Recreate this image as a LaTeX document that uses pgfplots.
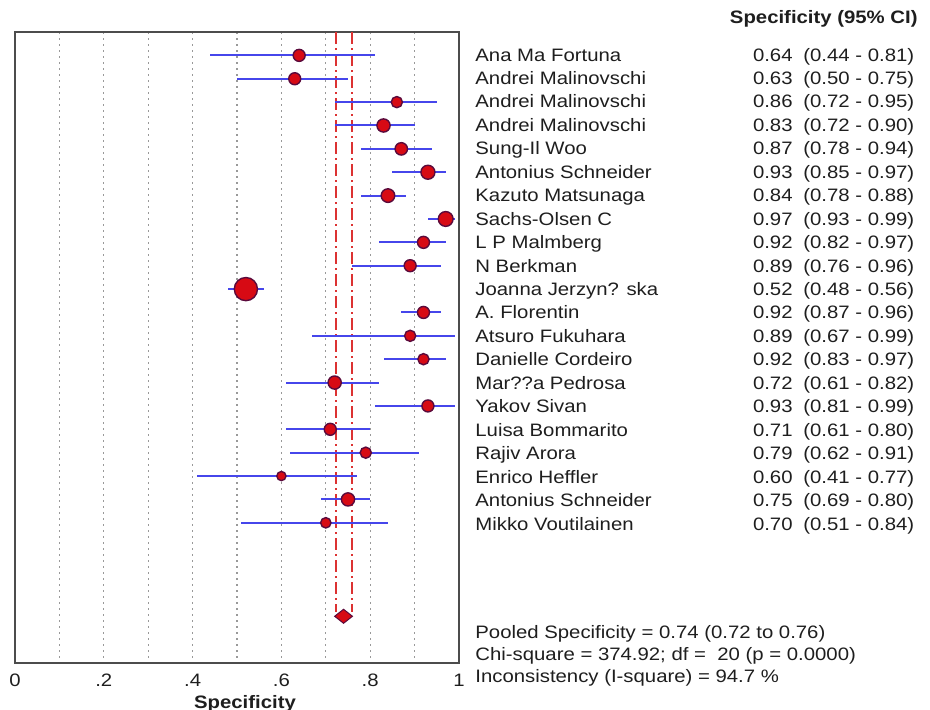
\documentclass[border=0pt]{standalone}
\usepackage{pgfplots}
\pgfplotsset{compat=1.18}
\usepackage{pgfplotstable}
\usepackage{fontspec}
\setmainfont{Liberation Sans}[FakeStretch=1.13]
\definecolor{ciblue}{RGB}{70,70,235}
\definecolor{mkred}{RGB}{215,10,20}
\definecolor{mkedge}{RGB}{90,10,60}
\definecolor{txt}{RGB}{30,30,30}
\definecolor{refred}{RGB}{220,50,50}

\pgfplotstableread{
row x lo hi r
0 0.64 0.44 0.81 3.0
1 0.63 0.50 0.75 3.0
2 0.86 0.72 0.95 2.8
3 0.83 0.72 0.90 3.3
4 0.87 0.78 0.94 3.1
5 0.93 0.85 0.97 3.5
6 0.84 0.78 0.88 3.4
7 0.97 0.93 0.99 3.7
8 0.92 0.82 0.97 3.0
9 0.89 0.76 0.96 3.0
10 0.52 0.48 0.56 5.8
11 0.92 0.87 0.96 3.0
12 0.89 0.67 0.99 2.8
13 0.92 0.83 0.97 2.8
14 0.72 0.61 0.82 3.3
15 0.93 0.81 0.99 3.0
16 0.71 0.61 0.80 3.0
17 0.79 0.62 0.91 2.8
18 0.60 0.41 0.77 2.3
19 0.75 0.69 0.80 3.3
20 0.70 0.51 0.84 2.6
}\studies

\begin{document}
\begin{tikzpicture}
\begin{axis}[
  name=ax,
  scale only axis, width=222pt, height=315.5pt,
  xmin=0, xmax=1, ymin=-1, ymax=26, y dir=reverse,
  axis line style={draw=black!70, line width=1pt},
  xtick={0,0.2,0.4,0.6,0.8,1},
  xticklabels={0,.2,.4,.6,.8,1},
  minor xtick={0.1,0.3,0.5,0.7,0.9},
  xmajorgrids, xminorgrids,
  major grid style={black!40, dash pattern=on 1pt off 2pt, line width=0.6pt},
  minor grid style={black!40, dash pattern=on 1pt off 2pt, line width=0.6pt},
  ytick=\empty,
  major tick length=0pt, minor tick length=0pt,
  xticklabel style={font=\fontsize{9}{10}\selectfont, text=txt, yshift=-2pt},
  /pgf/number format/assume math mode=true,
  clip=false,
]
% pooled CI reference lines
\addplot[draw=refred, line width=0.8pt, dash pattern=on 6pt off 2pt on 1pt off 2pt] coordinates {(0.723,-1) (0.723,23.8)};
\addplot[draw=refred, line width=0.8pt, dash pattern=on 6pt off 2pt on 1pt off 2pt] coordinates {(0.759,-1) (0.759,23.8)};
% CI lines
\addplot[draw=none, mark=none, forget plot,
  error bars/.cd, x dir=both, x explicit, error mark=none,
  error bar style={ciblue, line width=1pt}]
  table[x=x, y=row, x error minus expr=\thisrow{x}-\thisrow{lo}, x error plus expr=\thisrow{hi}-\thisrow{x}] {\studies};
% point estimates
\addplot[only marks, mark=*, scatter,
  scatter/use mapped color={draw=mkedge, fill=mkred},
  visualization depends on={\thisrow{r} \as \msize},
  scatter/@pre marker code/.append style={/tikz/mark size=\msize},
  mark options={line width=0.7pt}]
  table[x=x, y=row] {\studies};
% pooled diamond
\addplot[fill=mkred, draw=mkedge, line width=0.5pt] coordinates {(0.72,24) (0.74,23.7) (0.76,24) (0.74,24.3)} -- cycle;
\end{axis}
\begin{scope}[shift={(ax.north west)}, x=0.5pt, y=-0.5pt,
  every node/.style={font=\fontsize{9}{10}\selectfont, text=txt, inner sep=0pt}]
\path[use as bounding box] (-15,-32) rectangle (915,677);
\node[anchor=base] at (230,676) {\textbf{Specificity}};
\node[anchor=base east] at (903,-8) {\textbf{Specificity (95\% CI)}};
\foreach \n/\v/\c [count=\i from 0] in {
 Ana Ma Fortuna/0.64/(0.44 - 0.81),
 Andrei Malinovschi/0.63/(0.50 - 0.75),
 Andrei Malinovschi/0.86/(0.72 - 0.95),
 Andrei Malinovschi/0.83/(0.72 - 0.90),
 Sung-Il Woo/0.87/(0.78 - 0.94),
 Antonius Schneider/0.93/(0.85 - 0.97),
 Kazuto Matsunaga/0.84/(0.78 - 0.88),
 Sachs-Olsen C/0.97/(0.93 - 0.99),
 L P Malmberg/0.92/(0.82 - 0.97),
 N Berkman/0.89/(0.76 - 0.96),
 Joanna Jerzyn? ska/0.52/(0.48 - 0.56),
 A. Florentin/0.92/(0.87 - 0.96),
 Atsuro Fukuhara/0.89/(0.67 - 0.99),
 Danielle Cordeiro/0.92/(0.83 - 0.97),
 Mar??a Pedrosa/0.72/(0.61 - 0.82),
 Yakov Sivan/0.93/(0.81 - 0.99),
 Luisa Bommarito/0.71/(0.61 - 0.80),
 Rajiv Arora/0.79/(0.62 - 0.91),
 Enrico Heffler/0.60/(0.41 - 0.77),
 Antonius Schneider/0.75/(0.69 - 0.80),
 Mikko Voutilainen/0.70/(0.51 - 0.84)} {
  \pgfmathsetmacro{\yy}{23+23.45*\i+6}
  \node[anchor=base west] at (460,\yy) {\n};
  \node[anchor=base east] at (778,\yy) {\v};
  \node[anchor=base west] at (788,\yy) {\c};
}
\node[anchor=base west] at (460,606) {Pooled Specificity = 0.74 (0.72 to 0.76)};
\node[anchor=base west] at (460,628) {Chi-square = 374.92; df = \ 20 (p = 0.0000)};
\node[anchor=base west] at (460,650) {Inconsistency (I-square) = 94.7 \%};
\end{scope}
\end{tikzpicture}
\end{document}
